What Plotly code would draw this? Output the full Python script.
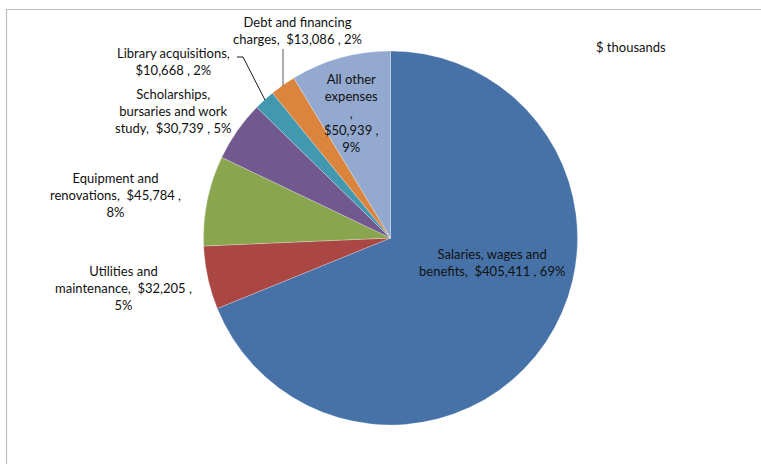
import plotly.graph_objects as go

W, H = 761, 464

categories = ["Salaries, wages and benefits", "Utilities and maintenance",
              "Equipment and renovations", "Scholarships, bursaries and work study",
              "Library acquisitions", "Debt and financing charges", "All other expenses"]
values = [405411, 32205, 45784, 30739, 10668, 13086, 50939]
colors = ["#4672A8", "#AA4643", "#89A54E", "#71588F", "#4198AF", "#DB843D", "#93A9CF"]
label_templates = [
    "Salaries, wages and<br>benefits,&nbsp; {v} , {p}",
    "Utilities and<br>maintenance,&nbsp; {v} ,<br>{p}",
    "Equipment and<br>renovations,&nbsp; {v} ,<br>{p}",
    "Scholarships,<br>bursaries and work<br>study,&nbsp; {v} , {p}",
    "Library acquisitions,<br>{v} , {p}",
    "Debt and financing<br>charges,&nbsp; {v} , {p}",
    "All other<br>expenses<br>,<br>{v} ,<br>{p}",
]
# label centre positions in pixels (x, y from top)
label_pos = [(492, 262), (124, 288), (115, 195), (173, 111), (173, 62), (297, 31), (351, 113)]

total = sum(values)

def px(x):
    return x / W

def py(y):
    return 1 - y / H

FONT = dict(family="Lato, 'Open Sans', sans-serif", size=13, color="#111111")

fig = go.Figure(go.Pie(
    labels=categories, values=values, sort=False, direction="clockwise", rotation=0,
    marker=dict(colors=colors, line=dict(color="rgba(255,255,255,0.5)", width=0.5)),
    textinfo="none", hoverinfo="label+value+percent", showlegend=False,
    domain=dict(x=[px(203.5), px(577.5)], y=[py(425), py(51)]),
))

annotations = []
for name, v, tmpl, (x, y) in zip(categories, values, label_templates, label_pos):
    pct = f"{round(v / total * 100)}%"
    txt = tmpl.format(v=f"${v:,}", p=pct)
    annotations.append(dict(x=px(x), y=py(y), xref="paper", yref="paper", text=txt,
                            showarrow=False, xanchor="center", yanchor="middle",
                            align="center", font=FONT))
annotations.append(dict(x=px(631), y=py(47), xref="paper", yref="paper", text="$ thousands",
                        showarrow=False, xanchor="center", yanchor="middle", font=FONT))

shapes = [
    # chart frame (left and top edges visible)
    dict(type="path", xref="paper", yref="paper",
         path=f"M {px(6.5)},-0.05 L {px(6.5)},{py(9.5)} L 1.05,{py(9.5)}",
         line=dict(color="#BFBFBF", width=1.2)),
    # leader lines
    dict(type="path", xref="paper", yref="paper",
         path=f"M {px(237)},{py(57)} L {px(243)},{py(57)} L {px(265)},{py(100)}",
         line=dict(color="#1a1a1a", width=1)),
    dict(type="line", xref="paper", yref="paper",
         x0=px(283), y0=py(49), x1=px(283), y1=py(86),
         line=dict(color="#595959", width=1)),
]

fig.update_layout(width=W, height=H, margin=dict(l=0, r=0, t=0, b=0),
                  paper_bgcolor="white", plot_bgcolor="white",
                  annotations=annotations, shapes=shapes)

fig.write_html("out.html")
